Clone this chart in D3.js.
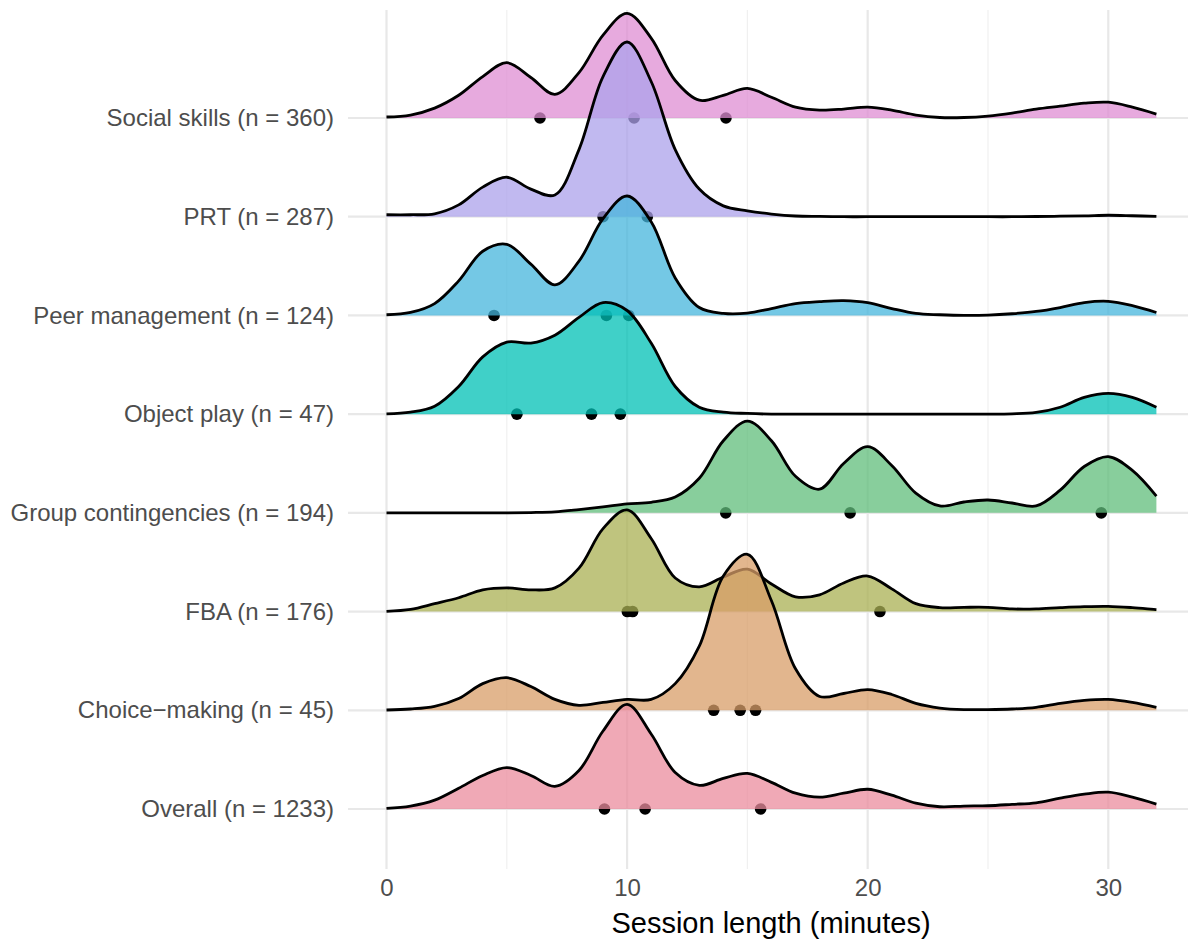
<!DOCTYPE html>
<html lang="en">
<head>
<meta charset="utf-8">
<title>Session length by intervention</title>
<style>
body { margin: 0; background: #fff; }
svg text { font-family: "Liberation Sans", Arial, sans-serif; }
.axis text { font-size: 24px; fill: #4d4d4d; }
.axis path, .axis line { display: none; }
</style>
</head>
<body>
<div id="chart"></div>
<script src="https://d3js.org/d3.v7.min.js"></script>
<script>
// ridge labels, top to bottom
const categories = [
  "Social skills (n = 360)",
  "PRT (n = 287)",
  "Peer management (n = 124)",
  "Object play (n = 47)",
  "Group contingencies (n = 194)",
  "FBA (n = 176)",
  "Choice\u2212making (n = 45)",
  "Overall (n = 1233)"
];

const colors = ["#df8ed3", "#aca2eb", "#46b6dc", "#00c0b6", "#60be7b", "#aab053", "#d89e68", "#eb8c9e"];

// density grid (minutes)
const minutes = [0,1,2,3,4,5,6,7,8,9,10,11,12,13,14,15,16,17,18,19,20,21,22,23,24,25,26,27,28,29,30,31,32];

// ridge heights, in % of the row spacing
const socialSkills = [1,3,10,23,42,56,41,24,46,84,106,81,38,18,23,30,21,11,8,9,11,8,3,0.5,0.5,2,5,9,12,15,16,11,4];
const prt = [2,2,3,12,30,40,28,22,68,142,177,137,68,28,11,6,2.7,0.7,0.3,0,0,0,0,0,0,0,0,0.2,0.5,0.8,1.5,1,0.3];
const peerManagement = [0.7,3,12,35,65,72,52,31,55,98,121,95,38,8,2,2.3,7,12,14,15,13,7,2,0.7,0,0.3,1.7,4,8,13,14.3,10,3];
const objectPlay = [0.3,2,8,28,58,73,72,80,98,113,105,72,28,7,2,0.7,0,0,0,0,0,0,0,0,0,0,0.3,1.7,7,17,21,17,7];
const groupContingencies = [0,0,0,0,0,0,0.3,1,3.3,6,9,10.7,16,35,73,93,73,37,24,50,67,48,20,7,11,13,10,7,23,47,57,43,17];
const fba = [0.3,2.3,8,14,22,24,22,24,44,84,103,74,34,25,35,43,28,15,17,29,36,23,8,4,4.3,4.3,2.7,2.7,4,5,5.3,4,2];
const choiceMaking = [0.3,1.3,4,12,27,33,24,11,5,8,11,11,27,65,136,158,111,42,14,17,21,16,7,2.3,0.7,0.7,1.3,3,7,10,11,8,3];
const overall = [0.7,3,9,21,34,42,34,23,39,79,106,76,37,24,31,36,27,16,12,16,20,14,6,2.3,3,3.3,4.7,6.3,11,15,17,12,5];

// points on each baseline (minutes)
const socialPts = [6.38, 10.29, 14.11];
const prtPts = [9.0, 10.84];
const peerPts = [4.47, 9.14, 10.07];
const objectPts = [5.42, 8.52, 9.72];
const groupPts = [14.10, 19.27, 29.71];
const fbaPts = [10.01, 10.23, 20.51];
const choicePts = [13.60, 14.70, 15.34];
const overallPts = [9.06, 10.75, 15.55];

const xTicks = [0, 10, 20, 30];
const xMinor = [5, 15, 25];

const series = [socialSkills, prt, peerManagement, objectPlay, groupContingencies, fba, choiceMaking, overall];
const points = [socialPts, prtPts, peerPts, objectPts, groupPts, fbaPts, choicePts, overallPts];

const ridges = categories.map((name, i) => ({
  name: name,
  values: series[i],
  points: points[i],
  color: colors[i]
}));

const width = 1188;
const height = 941;
const panel = { left: 348, right: 1188, top: 10, bottom: 869 };

const svg = d3.select("#chart")
  .append("svg")
  .attr("width", width)
  .attr("height", height);

const x = d3.scaleLinear()
  .domain([0, 32])
  .range([386.5, 1156.4]);

const y = d3.scalePoint()
  .domain(categories)
  .range([118, 809]);

const h = d3.scaleLinear()
  .domain([0, 100])
  .range([0, y.step()]);

// grid
const grid = svg.append("g");
grid.selectAll(".minor")
  .data(xMinor)
  .enter()
  .append("line")
  .attr("x1", d => x(d)).attr("x2", d => x(d))
  .attr("y1", panel.top).attr("y2", panel.bottom)
  .attr("stroke", "#f0f0f0")
  .attr("stroke-width", 1.2);

grid.selectAll(".major")
  .data(xTicks)
  .enter()
  .append("line")
  .attr("x1", d => x(d)).attr("x2", d => x(d))
  .attr("y1", panel.top).attr("y2", panel.bottom)
  .attr("stroke", "#e8e8e8")
  .attr("stroke-width", 2.2);

grid.selectAll(".hline")
  .data(categories)
  .enter()
  .append("line")
  .attr("x1", panel.left).attr("x2", panel.right)
  .attr("y1", d => y(d)).attr("y2", d => y(d))
  .attr("stroke", "#e8e8e8")
  .attr("stroke-width", 2.2);

const curve = d3.curveCatmullRom.alpha(0.5);

// ridges, top row first so lower rows sit on top
ridges.forEach(r => {
  const base = y(r.name);
  const g = svg.append("g");

  g.selectAll("circle")
    .data(r.points)
    .enter()
    .append("circle")
    .attr("cx", d => x(d))
    .attr("cy", base)
    .attr("r", 5.8)
    .attr("fill", "#000");

  const area = d3.area()
    .x((d, i) => x(minutes[i]))
    .y0(base)
    .y1(d => base - h(d))
    .curve(curve);

  const line = d3.line()
    .x((d, i) => x(minutes[i]))
    .y(d => base - h(d))
    .curve(curve);

  g.append("path")
    .datum(r.values)
    .attr("d", area)
    .attr("fill", r.color)
    .attr("fill-opacity", 0.75);

  g.append("path")
    .datum(r.values)
    .attr("d", line)
    .attr("fill", "none")
    .attr("stroke", "#000")
    .attr("stroke-width", 2.8)
    .attr("stroke-linejoin", "round");
});

// axes
svg.append("g")
  .attr("class", "axis")
  .attr("transform", `translate(${panel.left},0)`)
  .call(d3.axisLeft(y).tickSize(0).tickPadding(14));

svg.append("g")
  .attr("class", "axis")
  .attr("transform", `translate(0,${panel.bottom})`)
  .call(d3.axisBottom(x).tickValues(xTicks).tickSize(0).tickPadding(10));

svg.append("text")
  .attr("x", 771)
  .attr("y", 933)
  .attr("text-anchor", "middle")
  .attr("font-size", 29)
  .attr("fill", "#000")
  .text("Session length (minutes)");
</script>
</body>
</html>
